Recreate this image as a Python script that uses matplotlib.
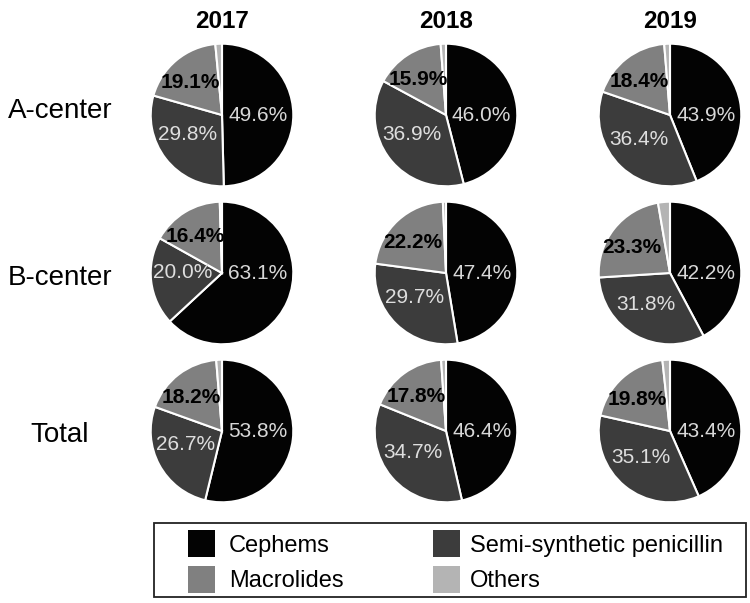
import matplotlib
matplotlib.use("Agg")
import numpy as np
import matplotlib.pyplot as plt
from matplotlib.patches import Rectangle

plt.rcParams['font.family'] = ['Liberation Sans', 'DejaVu Sans']

years = ["2017", "2018", "2019"]
centers = ["A-center", "B-center", "Total"]
categories = ["Cephems", "Semi-synthetic penicillin", "Macrolides", "Others"]

# values per row (center), per column (year): Cephems, Semi-synthetic penicillin, Macrolides, Others
a_center = [[49.6, 29.8, 19.1, 1.5], [46.0, 36.9, 15.9, 1.2], [43.9, 36.4, 18.4, 1.3]]
b_center = [[63.1, 20.0, 16.4, 0.5], [47.4, 29.7, 22.2, 0.7], [42.2, 31.8, 23.3, 2.7]]
total = [[53.8, 26.7, 18.2, 1.3], [46.4, 34.7, 17.8, 1.1], [43.4, 35.1, 19.8, 1.7]]
data = [a_center, b_center, total]

colors = ["#030303", "#3c3c3c", "#808080", "#b4b4b4"]
label_colors = ["#d8d8d8", "#dedede", "#000000"]
label_weights = ["normal", "normal", "bold"]
label_r = [None, 0.55, 0.64]
label_dang = [0, -8, 5]

W, H = 750, 603
fig = plt.figure(figsize=(W / 100, H / 100), dpi=100)

col_x = [222, 446, 670]
row_y = [115, 273, 431]
R = 72

for r, rowvals in enumerate(data):
    for c, vals in enumerate(rowvals):
        cx, cy = col_x[c], row_y[r]
        ax = fig.add_axes([(cx - R) / W, 1 - (cy + R) / H, 2 * R / W, 2 * R / H])
        wedges, _ = ax.pie(
            vals, colors=colors, startangle=90, counterclock=False,
            wedgeprops=dict(edgecolor="white", linewidth=1.5))
        for i in range(3):
            w = wedges[i]
            if i == 0:
                x, y = 0.5, -0.01
            else:
                ang = np.deg2rad((w.theta1 + w.theta2) / 2 + label_dang[i])
                x, y = label_r[i] * np.cos(ang), label_r[i] * np.sin(ang)
            ax.text(x, y, f"{vals[i]:.1f}%", ha="center", va="center",
                    fontsize=15, color=label_colors[i], fontweight=label_weights[i])
        ax.set_xlim(-1.01, 1.01)
        ax.set_ylim(-1.01, 1.01)
        ax.set_aspect("equal")
        ax.axis("off")

for c, y in enumerate(years):
    fig.text(col_x[c] / W, 1 - 28 / H, y, ha="center", va="baseline",
             fontsize=17.5, fontweight="bold")

label_base = [118, 285, 442]
for r, name in enumerate(centers):
    fig.text(60 / W, 1 - label_base[r] / H, name, ha="center", va="baseline", fontsize=20)

# legend box
fig.patches.append(Rectangle((154 / W, 1 - 597 / H), (746 - 154) / W, (597 - 523) / H,
                             transform=fig.transFigure, facecolor="white",
                             edgecolor="#222222", linewidth=1.3, zorder=0))
leg_pos = [(188, 530, 229, 552), (433, 530, 470, 552), (188, 566, 229, 587), (433, 566, 470, 587)]
order = [0, 1, 2, 3]
sq = 27
for k, i in enumerate(order):
    sx, sy, tx, ty = leg_pos[k]
    fig.patches.append(Rectangle((sx / W, 1 - (sy + sq) / H), sq / W, sq / H,
                                 transform=fig.transFigure, facecolor=colors[i],
                                 edgecolor="none", zorder=1))
    fig.text(tx / W, 1 - ty / H, categories[i], ha="left", va="baseline", fontsize=17)

fig.savefig("out.png", dpi=100)
